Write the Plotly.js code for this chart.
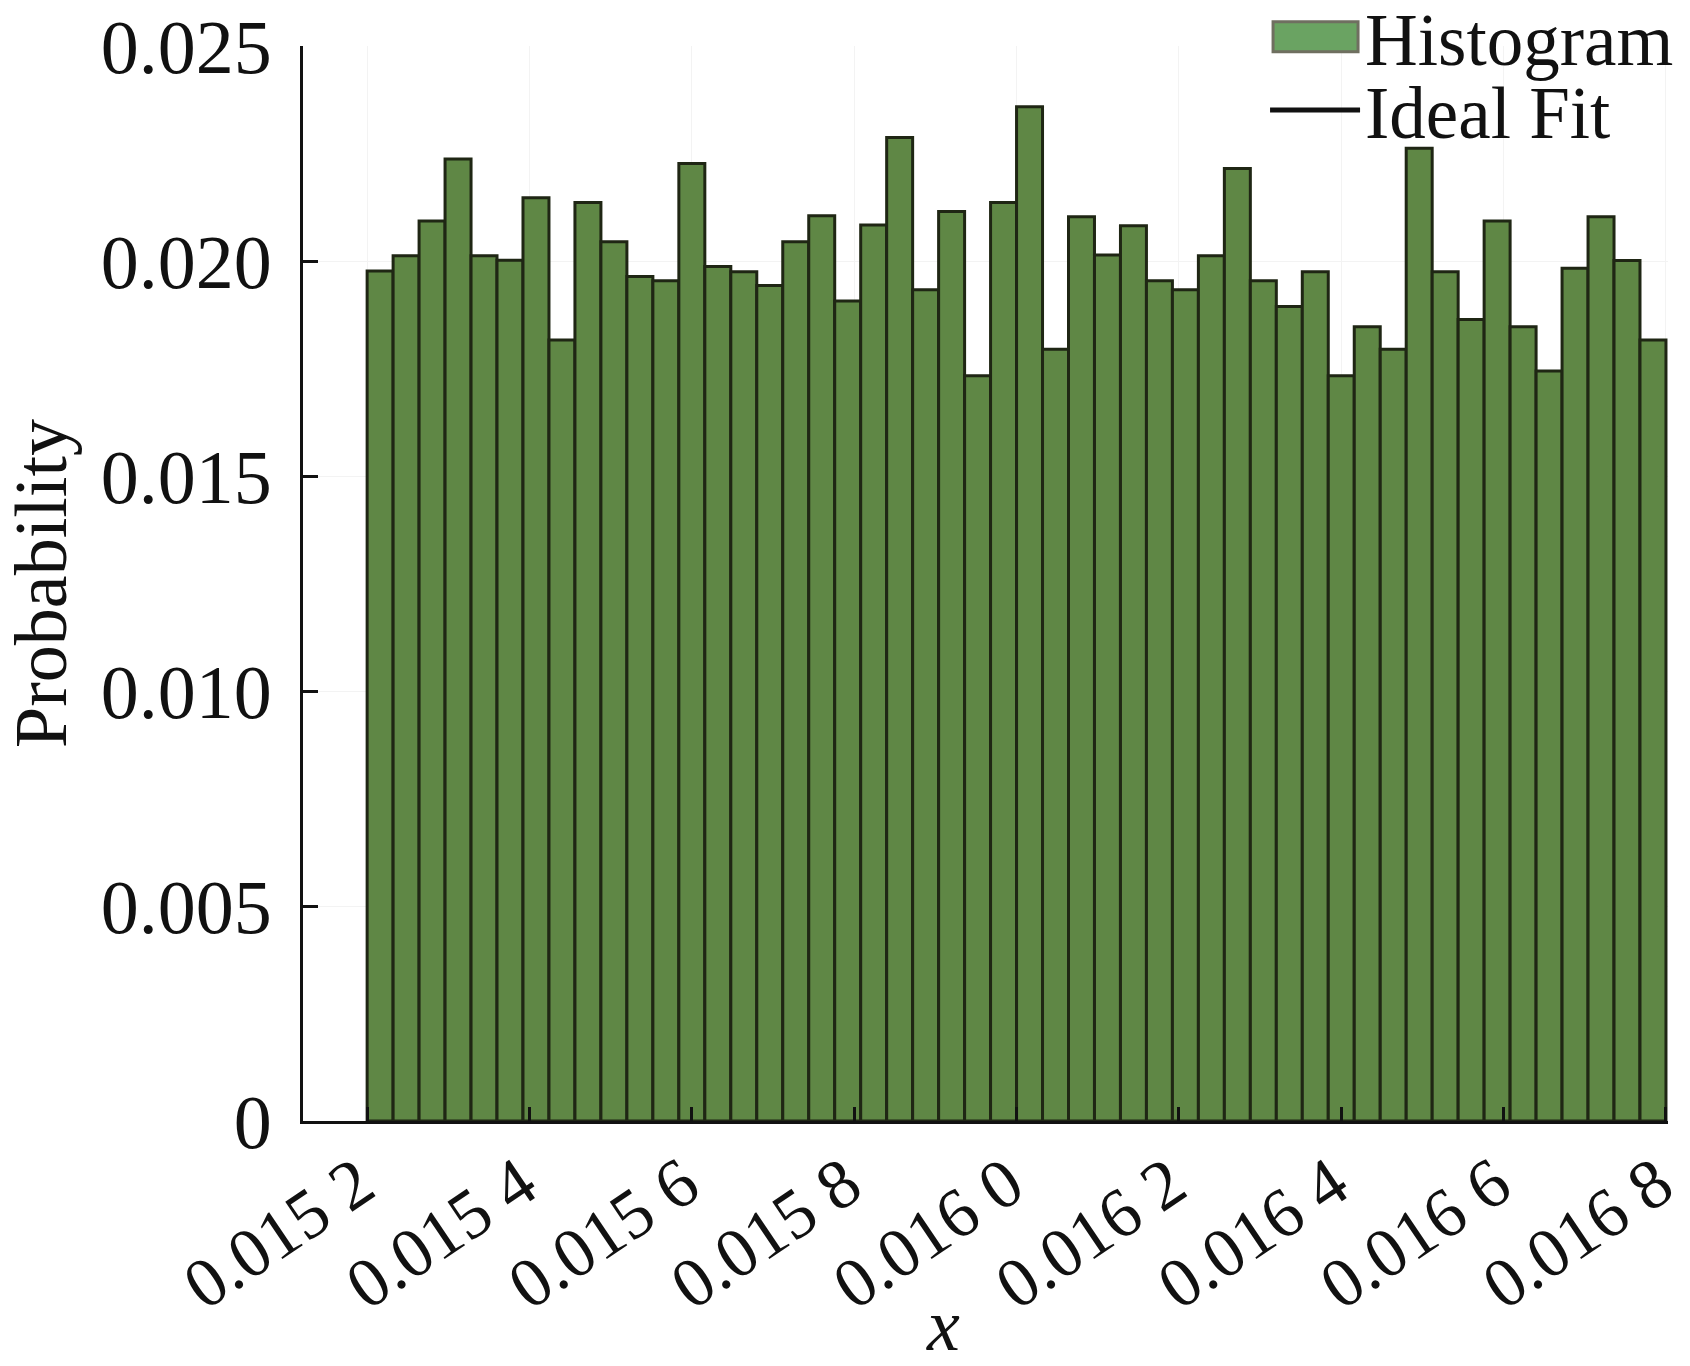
<!DOCTYPE html>
<html>
<head>
<meta charset="utf-8">
<script src="https://cdn.plot.ly/plotly-3.0.1.min.js"></script>
<style>html,body{margin:0;padding:0;background:#fff;}#chart{width:1690px;height:1366px;}</style>
</head>
<body>
<div id="chart"></div>
<script>
// Histogram bins (50 equal bins from 0.0152 to 0.0168)
const binStart = 0.0152;
const binWidth = 0.000032;
const probabilities = [
  0.01977, 0.02012, 0.02093, 0.02237, 0.02012, 0.02002, 0.02147, 0.01816, 0.02136, 0.02045,
  0.01964, 0.01954, 0.02227, 0.01987, 0.01975, 0.01943, 0.02045, 0.02105, 0.01907, 0.02084,
  0.02287, 0.01933, 0.02115, 0.01733, 0.02136, 0.02359, 0.01795, 0.02103, 0.02014, 0.02082,
  0.01954, 0.01933, 0.02012, 0.02215, 0.01954, 0.01894, 0.01975, 0.01733, 0.01847, 0.01795,
  0.02262, 0.01975, 0.01864, 0.02093, 0.01847, 0.01744, 0.01983, 0.02103, 0.02001, 0.01816
];
const xTickVals = [0.0152, 0.0154, 0.0156, 0.0158, 0.0160, 0.0162, 0.0164, 0.0166, 0.0168];
const xTickText = ['0.015 2', '0.015 4', '0.015 6', '0.015 8', '0.016 0', '0.016 2', '0.016 4', '0.016 6', '0.016 8'];
const yTickVals = [0, 0.005, 0.010, 0.015, 0.020, 0.025];
const yTickText = ['0', '0.005', '0.010', '0.015', '0.020', '0.025'];

const binCenters = probabilities.map((_, i) => binStart + (i + 0.5) * binWidth);

const FONT = 'Liberation Serif';
const LEG_W = 90;

const traces = [
  {
    type: 'bar',
    name: 'Histogram',
    legend: 'legend',
    x: binCenters,
    y: probabilities,
    width: binWidth,
    marker: {color: '#5f8745', line: {color: '#1f2614', width: 3}},
    hoverinfo: 'x+y'
  },
  {
    type: 'scatter',
    mode: 'lines',
    name: 'Ideal Fit',
    legend: 'legend2',
    x: [null],
    y: [null],
    line: {color: '#111111', width: 5}
  }
];

const legendCommon = {
  xref: 'paper', yref: 'paper',
  xanchor: 'left', yanchor: 'middle',
  bgcolor: 'rgba(0,0,0,0)',
  borderwidth: 0,
  font: {family: FONT, size: 73, color: '#111111'},
  itemwidth: LEG_W
};

const layout = {
  width: 1690,
  height: 1366,
  margin: {l: 303, r: 22, t: 46, b: 245, autoexpand: false},
  paper_bgcolor: '#ffffff',
  plot_bgcolor: '#ffffff',
  font: {family: FONT, color: '#111111', size: 74},
  bargap: 0,
  showlegend: true,
  legend: Object.assign({}, legendCommon, {x: 0.7048, y: 1.0085}),
  legend2: Object.assign({}, legendCommon, {x: 0.7048, y: 0.9405}),
  xaxis: {
    range: [0.015121, 0.0168025],
    tickmode: 'array',
    tickvals: xTickVals,
    ticktext: xTickText,
    tickangle: -34,
    ticks: 'inside',
    ticklen: 14,
    tickwidth: 3,
    tickcolor: '#111111',
    showline: true,
    linecolor: '#111111',
    linewidth: 3,
    showgrid: true,
    gridcolor: '#f3f3f3',
    gridwidth: 1,
    zeroline: false,
    ticklabelshift: -8,
    ticklabelstandoff: -8,
    ticklabeloverflow: 'allow',
    tickfont: {family: FONT, size: 70, color: '#111111'}
  },
  yaxis: {
    range: [0, 0.025],
    tickmode: 'array',
    tickvals: yTickVals,
    ticktext: yTickText,
    ticks: 'inside',
    ticklen: 15,
    tickwidth: 3,
    tickcolor: '#111111',
    showline: true,
    linecolor: '#111111',
    linewidth: 3,
    showgrid: true,
    gridcolor: '#f3f3f3',
    gridwidth: 1,
    zeroline: false,
    ticklabelstandoff: 13,
    tickfont: {family: FONT, size: 76, color: '#111111'},
    title: {text: 'Probability', font: {family: FONT, size: 74, color: '#111111'}, standoff: 62}
  },
  annotations: [
    {
      text: '<i>x</i>',
      xref: 'paper', yref: 'paper',
      x: 0.469, y: -0.23,
      xanchor: 'center', yanchor: 'bottom',
      showarrow: false,
      font: {family: FONT, size: 74, color: '#111111'}
    }
  ]
};

Plotly.newPlot('chart', traces, layout, {displayModeBar: false, staticPlot: true}).then(function () {
  // Enlarge legend symbols to match the wide swatches of the original figure
  document.querySelectorAll('#chart .legend .traces').forEach(function (g) {
    const text = g.querySelector('text.legendtext');
    if (!text) return;
    const tx = parseFloat(text.getAttribute('x')) || (LEG_W + 10);
    g.querySelectorAll('.legendpoints path').forEach(function (p) {
      p.setAttribute('transform', '');
      p.setAttribute('d', 'M' + (tx - 92) + ',-15H' + (tx - 7) + 'V15H' + (tx - 92) + 'Z');
      p.style.fill = '#6aa362';
      p.style.stroke = '#6f6f60';
      p.style.strokeWidth = '3px';
    });
    g.querySelectorAll('.legendlines path').forEach(function (p) {
      p.setAttribute('transform', '');
      p.setAttribute('d', 'M' + (tx - 96) + ',0h90');
      p.style.strokeWidth = '5px';
    });
  });
});
</script>
</body>
</html>
